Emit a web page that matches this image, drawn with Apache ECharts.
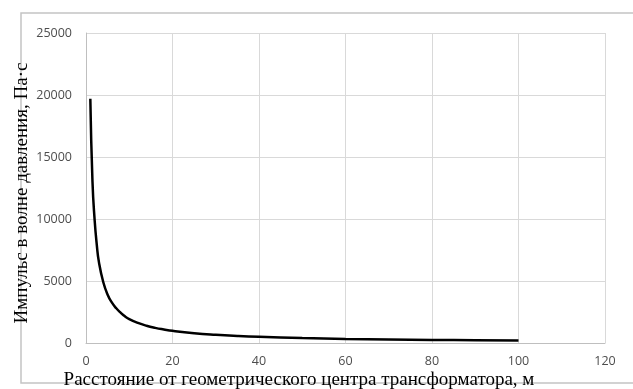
<!DOCTYPE html>
<html>
<head>
<meta charset="utf-8">
<script src="https://cdn.jsdelivr.net/npm/echarts@6/dist/echarts.min.js"></script>
<style>
  html, body { margin: 0; padding: 0; background: #ffffff; }
  #chart { width: 633px; height: 389px; }
</style>
</head>
<body>
<div id="chart"></div>
<script>
// Distance from the transformer's geometric centre, m
const distances = [1, 1.5, 2, 2.5, 3, 4, 5, 6, 7, 8, 9, 10, 12, 14, 16, 18, 20,
                   25, 30, 35, 40, 50, 60, 70, 80, 90, 100];
// Pressure-wave impulse, Pa·s
const impulses = [19700, 13000, 9900, 7900, 6500, 4900, 3900, 3250, 2800, 2450, 2150, 1930,
                  1620, 1390, 1220, 1090, 980, 790, 660, 565, 495, 395, 330, 285, 250, 222, 200];

const xTitle = 'Расстояние от геометрического центра трансформатора, м';
const yTitle = 'Импульс в волне давления, Па·с';

const points = distances.map((d, i) => [d, impulses[i]]);

const chart = echarts.init(document.getElementById('chart'), null, { renderer: 'canvas' });

const labelStyle = { color: '#4d4d4d', fontFamily: 'Open Sans', fontSize: 12.5, formatter: v => String(v) };
const titleFont = 'Liberation Serif';

chart.setOption({
  animation: false,
  backgroundColor: '#ffffff',
  grid: { left: 86, right: 28, top: 33, bottom: 46, containLabel: false },
  xAxis: {
    type: 'value',
    min: 0, max: 120, interval: 20,
    axisLine: { show: true, lineStyle: { color: '#bfbfbf', width: 1 } },
    axisTick: { show: false },
    axisLabel: Object.assign({ margin: 12 }, labelStyle),
    splitLine: { show: true, lineStyle: { color: '#d9d9d9', width: 1 } }
  },
  yAxis: {
    type: 'value',
    min: 0, max: 25000, interval: 5000,
    axisLine: { show: true, lineStyle: { color: '#bfbfbf', width: 1 } },
    axisTick: { show: false },
    axisLabel: Object.assign({ margin: 14 }, labelStyle),
    splitLine: { show: true, lineStyle: { color: '#d9d9d9', width: 1 } }
  },
  graphic: [
    {
      // outer chart-area border, open on the right
      type: 'polyline',
      z: 0,
      shape: { points: [[633, 13], [21, 13], [21, 383], [633, 383]] },
      style: { stroke: '#c4c4c4', lineWidth: 1.5, fill: null }
    },
    {
      type: 'text',
      z: 10,
      x: 22, y: 193,
      rotation: Math.PI / 2,
      style: {
        text: yTitle,
        fill: '#000000',
        font: '19px "' + titleFont + '"',
        textAlign: 'center',
        textVerticalAlign: 'middle'
      }
    },
    {
      type: 'text',
      z: 10,
      x: 299, y: 380,
      style: {
        text: xTitle,
        fill: '#000000',
        font: '19px "' + titleFont + '"',
        textAlign: 'center',
        textVerticalAlign: 'middle'
      }
    }
  ],
  series: [{
    type: 'line',
    data: points,
    smooth: true,
    showSymbol: false,
    lineStyle: { color: '#000000', width: 2.5 },
    z: 5
  }]
});
</script>
</body>
</html>
